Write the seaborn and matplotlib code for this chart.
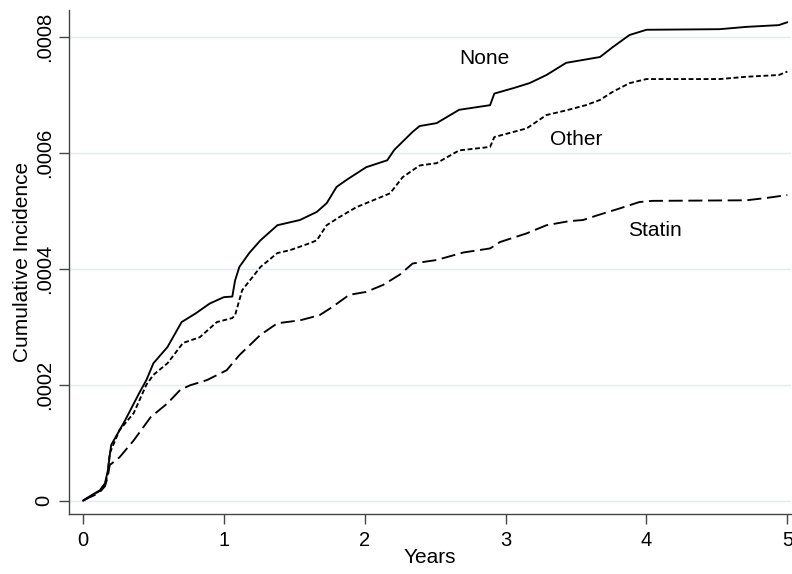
import seaborn as sns
import matplotlib.pyplot as plt
import pandas as pd
import numpy as np

# Curvas de incidência acumulada (valores em 1e-4)
none_t = [0, 0.03, 0.085, 0.12, 0.156, 0.175, 0.2, 0.3, 0.4, 0.45, 0.5, 0.6, 0.7, 0.8,
          0.9, 1.0, 1.06, 1.08, 1.11, 1.18, 1.26, 1.38, 1.54, 1.66, 1.73, 1.80, 1.87,
          2.01, 2.16, 2.21, 2.34, 2.39, 2.51, 2.67, 2.89, 2.92, 3.05, 3.17, 3.29, 3.43,
          3.55, 3.67, 3.76, 3.88, 4.0, 4.52, 4.71, 4.94, 5.0]
none_v = [0, 0.05, 0.13, 0.18, 0.3, 0.5, 0.96, 1.39, 1.86, 2.08, 2.37, 2.65, 3.08, 3.23,
          3.40, 3.51, 3.52, 3.8, 4.03, 4.27, 4.49, 4.75, 4.84, 4.98, 5.13, 5.41, 5.53,
          5.75, 5.87, 6.05, 6.36, 6.46, 6.51, 6.74, 6.82, 7.02, 7.11, 7.20, 7.34, 7.55,
          7.60, 7.65, 7.82, 8.03, 8.12, 8.13, 8.17, 8.20, 8.25]

other_t = [0, 0.03, 0.085, 0.12, 0.156, 0.175, 0.19, 0.26, 0.36, 0.45, 0.5, 0.6, 0.71,
           0.83, 0.95, 1.06, 1.08, 1.13, 1.26, 1.38, 1.47, 1.61, 1.66, 1.73, 1.82, 1.94,
           2.11, 2.18, 2.27, 2.39, 2.51, 2.67, 2.89, 2.92, 3.15, 3.29, 3.43, 3.57, 3.67,
           3.76, 3.88, 4.0, 4.52, 4.71, 4.94, 5.0]
other_v = [0, 0.04, 0.12, 0.17, 0.28, 0.45, 0.82, 1.22, 1.51, 2.0, 2.17, 2.37, 2.72,
           2.82, 3.08, 3.15, 3.2, 3.63, 4.03, 4.27, 4.32, 4.44, 4.49, 4.75, 4.89, 5.06,
           5.23, 5.3, 5.58, 5.78, 5.82, 6.04, 6.10, 6.27, 6.42, 6.65, 6.73, 6.82, 6.91,
           7.05, 7.20, 7.27, 7.27, 7.31, 7.34, 7.40]

statin_t = [0, 0.03, 0.085, 0.12, 0.156, 0.175, 0.19, 0.26, 0.36, 0.48, 0.6, 0.69, 0.76,
            0.88, 1.02, 1.11, 1.26, 1.38, 1.54, 1.68, 1.77, 1.89, 2.01, 2.13, 2.25, 2.34,
            2.51, 2.7, 2.89, 2.96, 3.15, 3.29, 3.45, 3.55, 3.65, 3.81, 3.95, 4.04, 4.71,
            4.85, 5.0]
statin_v = [0, 0.04, 0.1, 0.15, 0.25, 0.4, 0.615, 0.75, 1.04, 1.44, 1.68, 1.91, 1.99,
            2.08, 2.25, 2.51, 2.86, 3.06, 3.11, 3.20, 3.34, 3.55, 3.60, 3.72, 3.90, 4.09,
            4.15, 4.28, 4.35, 4.46, 4.61, 4.75, 4.82, 4.84, 4.92, 5.04, 5.15, 5.17, 5.18,
            5.22, 5.27]

grupos = ['None', 'Other', 'Statin']
x_ticks = [0, 1, 2, 3, 4, 5]
y_ticks = [0, 0.0002, 0.0004, 0.0006, 0.0008]
y_tick_labels = ['0', '.0002', '.0004', '.0006', '.0008']

# Posição dos rótulos das curvas (anos, incidência)
rotulo_pos = {'None': (2.85, 0.000763), 'Other': (3.5, 0.000622), 'Statin': (4.06, 0.000466)}

# Monta tabela longa
df = pd.concat([
    pd.DataFrame({'Years': none_t, 'ci': np.array(none_v) * 1e-4, 'grupo': 'None'}),
    pd.DataFrame({'Years': other_t, 'ci': np.array(other_v) * 1e-4, 'grupo': 'Other'}),
    pd.DataFrame({'Years': statin_t, 'ci': np.array(statin_v) * 1e-4, 'grupo': 'Statin'}),
], ignore_index=True)

sns.set_theme(style='white')
plt.rcParams['font.family'] = ['Liberation Sans', 'DejaVu Sans']
plt.rcParams['text.color'] = 'black'
plt.rcParams['axes.labelcolor'] = 'black'

fig = plt.figure(figsize=(7.92, 5.74), dpi=100)
ax = fig.add_axes([0.0871, 0.1045, 0.912, 0.878])

# Linhas de grade horizontais claras (tom azulado do Stata)
for yv in y_ticks:
    ax.axhline(yv, color='#E1ECEF', lw=1.0, zorder=0)

sns.lineplot(data=df, x='Years', y='ci', style='grupo', style_order=grupos,
             dashes={'None': '', 'Other': (2.6, 1.4), 'Statin': (7.5, 3.0)},
             color='black', lw=1.35, estimator=None, sort=False, legend=False, ax=ax)

for g in grupos:
    ax.text(*rotulo_pos[g], g, fontsize=15, ha='center', va='center', color='black')

ax.set_xlim(-0.0993, 5.028)
ax.set_ylim(-0.0000229, 0.000846)
ax.set_xticks(x_ticks)
ax.set_yticks(y_ticks)
ax.set_yticklabels(y_tick_labels, rotation=90, va='center')

ax.tick_params(axis='both', direction='out', length=7, width=1, color='#444444',
               labelsize=14.5, labelcolor='black', left=True, bottom=True)
ax.tick_params(axis='x', pad=5)
ax.tick_params(axis='y', pad=4)

for lado in ['top', 'right']:
    ax.spines[lado].set_visible(False)
for lado in ['left', 'bottom']:
    ax.spines[lado].set_color('#444444')
    ax.spines[lado].set_linewidth(1.0)

ax.set_xlabel('Years', fontsize=15, labelpad=-1)
ax.set_ylabel('Cumulative Incidence', fontsize=15, labelpad=2)

fig.savefig('out.png', dpi=100)
